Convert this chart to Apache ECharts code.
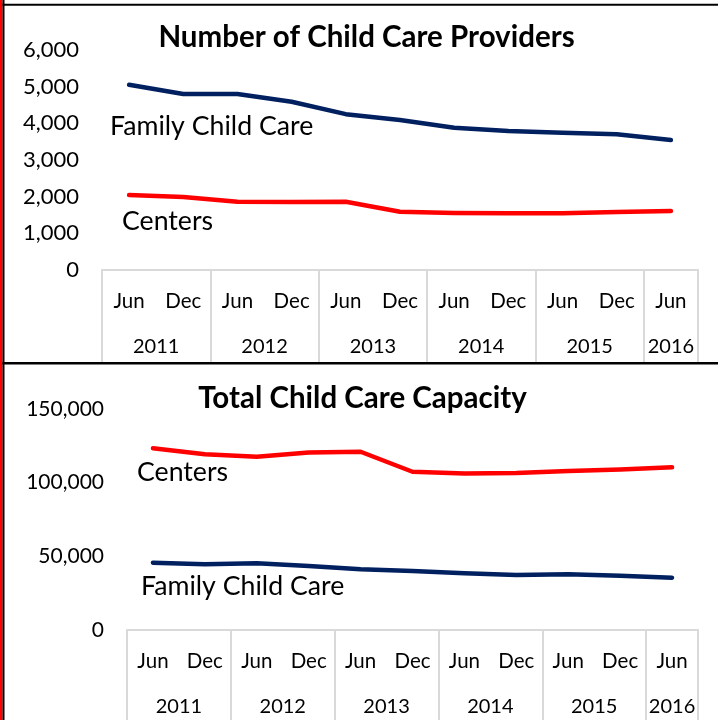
<!DOCTYPE html>
<html>
<head>
<meta charset="utf-8">
<script src="https://cdn.jsdelivr.net/npm/echarts@6/dist/echarts.min.js"></script>
<style>
html,body{margin:0;padding:0;background:#fff;}
#chart{width:718px;height:720px;}
</style>
</head>
<body>
<div id="chart"></div>
<script>
// ---- data ----
var months = ['Jun','Dec','Jun','Dec','Jun','Dec','Jun','Dec','Jun','Dec','Jun'];
var years = ['2011','2012','2013','2014','2015','2016'];
var yearSpans = [2,2,2,2,2,1];

var providerTicks = [0,1000,2000,3000,4000,5000,6000];
var capacityTicks = [0,50000,100000,150000];

var providersFamily  = [5050, 4800, 4800, 4590, 4250, 4090, 3880, 3790, 3745, 3700, 3545];
var providersCenters = [2045, 1990, 1860, 1855, 1860, 1590, 1555, 1550, 1545, 1580, 1610];

var capacityCenters = [123300, 119300, 117600, 120400, 121000, 107400, 106300, 106500, 107900, 109000, 110400];
var capacityFamily  = [45700, 44600, 45300, 43400, 41200, 40000, 38450, 37300, 37800, 36850, 35500];

// ---- helpers ----
var FONT = 'Lato';
var NAVY = '#002060';
var RED = '#ff0000';
var GRIDLINE = '#d9d9d9';

var groupStarts = [];
var yearCenters = {};
(function(){
  var s = 0;
  for (var i = 0; i < yearSpans.length; i++) {
    groupStarts.push(s);
    yearCenters[(s + yearSpans[i] / 2).toFixed(1)] = years[i];
    s += yearSpans[i];
  }
})();

function monthAxis(gridIndex, tickLen) {
  return {
    type: 'category', gridIndex: gridIndex, data: months, boundaryGap: true,
    axisLine: {show: true, lineStyle: {color: GRIDLINE, width: 2}},
    axisTick: {show: true, length: tickLen, lineStyle: {color: GRIDLINE, width: 2},
      interval: function (idx) { return groupStarts.indexOf(idx) >= 0; }},
    axisLabel: {interval: 0, margin: 21, fontSize: 20.5, color: '#000', fontFamily: FONT},
    splitLine: {show: false}
  };
}
function yearAxis(gridIndex) {
  return {
    type: 'value', gridIndex: gridIndex, position: 'bottom', offset: 46,
    min: 0, max: months.length, interval: 0.5,
    axisLine: {show: false}, axisTick: {show: false}, splitLine: {show: false},
    axisLabel: {margin: 21, fontSize: 20, color: '#000', fontFamily: FONT,
      showMinLabel: true, showMaxLabel: true,
      formatter: function (v) { return yearCenters[Number(v).toFixed(1)] || ''; }}
  };
}
function valAxis(gridIndex, ticks, size) {
  return {
    type: 'value', gridIndex: gridIndex,
    min: ticks[0], max: ticks[ticks.length - 1], interval: ticks[1] - ticks[0],
    axisLine: {show: false}, axisTick: {show: false}, splitLine: {show: false},
    axisLabel: {margin: 23, fontSize: size, color: '#000', fontFamily: FONT,
      formatter: function (v) { return Number(v).toLocaleString('en-US'); }}
  };
}
function lineSeries(name, data, color, xi, yi) {
  return {
    name: name, type: 'line', data: data, xAxisIndex: xi, yAxisIndex: yi,
    symbol: 'none', smooth: false,
    lineStyle: {color: color, width: 4.5, cap: 'round', join: 'round'},
    itemStyle: {color: color}
  };
}
function label(text, x, y, size, bold, align) {
  return {
    type: 'text', x: x, y: y, z: 100,
    style: {text: text, fontSize: size, fontFamily: FONT, fontWeight: bold ? 'bold' : 'normal',
      fill: '#000', align: align || 'left', verticalAlign: 'middle'}
  };
}

var chart = echarts.init(document.getElementById('chart'), null, {renderer: 'canvas'});
chart.setOption({
  animation: false,
  backgroundColor: '#fff',
  grid: [
    {left: 102, right: 20, top: 50, bottom: 450, containLabel: false},
    {left: 127, right: 20, top: 409, bottom: 90, containLabel: false}
  ],
  xAxis: [monthAxis(0, 92), yearAxis(0), monthAxis(1, 92), yearAxis(1)],
  yAxis: [valAxis(0, providerTicks, 22), valAxis(1, capacityTicks, 21)],
  series: [
    lineSeries('Family Child Care', providersFamily, NAVY, 0, 0),
    lineSeries('Centers', providersCenters, RED, 0, 0),
    lineSeries('Centers', capacityCenters, RED, 2, 1),
    lineSeries('Family Child Care', capacityFamily, NAVY, 2, 1)
  ],
  graphic: [
    {type: 'rect', shape: {x: 0, y: 0, width: 2.5, height: 720}, style: {fill: RED}, z: 50},
    {type: 'rect', shape: {x: 2.5, y: 0, width: 2, height: 720}, style: {fill: '#000'}, z: 50},
    {type: 'rect', shape: {x: 2.5, y: 3.7, width: 716, height: 2}, style: {fill: '#000'}, z: 50},
    {type: 'rect', shape: {x: 2.5, y: 362, width: 716, height: 2.5}, style: {fill: '#000'}, z: 50},
    label('Number of Child Care Providers', 366.5, 37, 29.5, true, 'center'),
    label('Total Child Care Capacity', 362.5, 398, 29.5, true, 'center'),
    label('Family Child Care', 110, 126, 26.7, false),
    label('Centers', 122, 221, 26.7, false),
    label('Centers', 137, 472, 26.7, false),
    label('Family Child Care', 141, 586, 26.7, false)
  ]
});
</script>
</body>
</html>
